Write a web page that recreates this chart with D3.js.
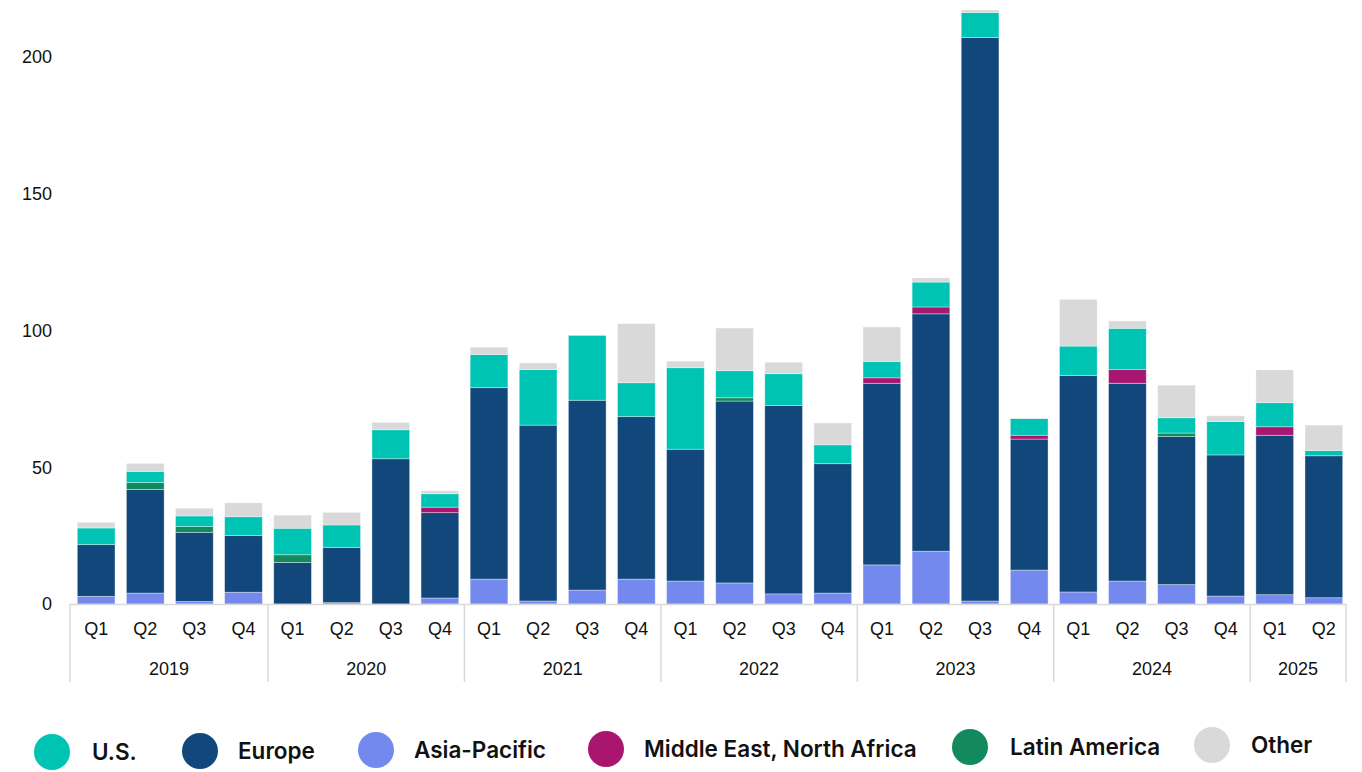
<!DOCTYPE html>
<html>
<head>
<meta charset="utf-8">
<script src="https://cdn.jsdelivr.net/npm/d3@7"></script>
<style>
  html, body { margin: 0; padding: 0; background: #fff; }
  svg { display: block; font-family: "Liberation Sans", Arial, sans-serif; }
</style>
</head>
<body>
<svg id="chart" width="1362" height="772"></svg>
<script>
// Quarterly values by region
const years = ["2019", "2020", "2021", "2022", "2023", "2024", "2025"];
const quartersPerYear = [4, 4, 4, 4, 4, 4, 2];
const quarterNames = ["Q1", "Q2", "Q3", "Q4"];

const asiaPacific   = [2.8, 4.0, 0.9, 4.3,  0.0, 0.5, 0.0, 2.2,  9.1, 1.1, 5.1, 9.1,  8.4, 7.7, 3.7, 4.0,  14.3, 19.3, 1.1, 12.4,  4.4, 8.4, 7.1, 2.9,  3.4, 2.3];
const europe        = [18.9, 37.9, 25.3, 20.7,  15.2, 20.2, 53.1, 31.2,  70.0, 64.3, 69.4, 59.4,  48.2, 66.5, 68.9, 47.3,  66.4, 86.8, 206.0, 47.9,  79.1, 72.3, 54.1, 51.6,  58.3, 51.9];
const latinAmerica  = [0, 2.5, 2.1, 0,  2.8, 0, 0, 0,  0, 0, 0, 0,  0, 1.2, 0, 0,  0, 0, 0, 0,  0, 0, 1.3, 0,  0, 0];
const middleEast    = [0, 0, 0, 0,  0, 0, 0, 2.0,  0, 0, 0, 0,  0, 0, 0, 0,  2.0, 2.5, 0, 1.4,  0, 5.0, 0, 0,  3.1, 0];
const us            = [6.1, 4.1, 3.9, 6.9,  9.7, 8.2, 10.6, 4.9,  12.1, 20.3, 23.7, 12.4,  29.8, 9.9, 11.6, 6.9,  6.0, 9.1, 9.2, 6.1,  10.8, 15.1, 5.6, 12.2,  8.8, 1.9];
const other         = [2.1, 2.9, 2.8, 5.1,  4.8, 4.6, 2.7, 1.1,  2.7, 2.4, 0, 21.6,  2.4, 15.6, 4.2, 8.0,  12.6, 1.5, 0.9, 0.2,  17.1, 2.7, 11.9, 2.1,  12.0, 9.3];

const yTicks = [0, 50, 100, 150, 200];

const series = [
  { key: "asia",   name: "Asia-Pacific",              values: asiaPacific,  color: "#7389ee" },
  { key: "europe", name: "Europe",                    values: europe,       color: "#11477a" },
  { key: "latam",  name: "Latin America",             values: latinAmerica, color: "#138a5e" },
  { key: "mena",   name: "Middle East, North Africa", values: middleEast,   color: "#a8166f" },
  { key: "us",     name: "U.S.",                      values: us,           color: "#00c4b3" },
  { key: "other",  name: "Other",                     values: other,        color: "#d9d9d9" }
];
const legendOrder = ["us", "europe", "asia", "mena", "latam", "other"];

// Build one row per quarter
const rows = [];
years.forEach((yr, yi) => {
  for (let q = 0; q < quartersPerYear[yi]; q++) {
    const i = rows.length;
    const row = { id: yr + "-" + quarterNames[q], year: yr, quarter: quarterNames[q] };
    series.forEach(s => { row[s.key] = s.values[i]; });
    rows.push(row);
  }
});

const svg = d3.select("#chart");
const axisLeft = 70, axisRight = 1346;
const y0 = 604;

const x = d3.scaleBand()
  .domain(rows.map(d => d.id))
  .range([77.3, 1342.7])
  .paddingInner(0.232)
  .paddingOuter(0);

const y = d3.scaleLinear().domain([0, 200]).range([y0, 57]);

const stack = d3.stack().keys(series.map(s => s.key));
const stacked = stack(rows);
const colorOf = Object.fromEntries(series.map(s => [s.key, s.color]));

// Bars
svg.append("g")
  .selectAll("g")
  .data(stacked)
  .join("g")
  .attr("fill", d => colorOf[d.key])
  .selectAll("rect")
  .data(d => d.filter(p => p[1] - p[0] > 0))
  .join("rect")
  .attr("x", d => x(d.data.id))
  .attr("width", x.bandwidth())
  .attr("y", d => y(d[1]))
  .attr("height", d => y(d[0]) - y(d[1]))
  .attr("stroke", "#ffffff")
  .attr("stroke-opacity", 0.45)
  .attr("stroke-width", 0.8);

// Y axis labels (no axis line)
const yAxis = d3.axisLeft(y).tickValues(yTicks).tickSize(0).tickPadding(0);
const yg = svg.append("g").attr("transform", "translate(52,0)").call(yAxis);
yg.select(".domain").remove();
yg.selectAll("text").attr("font-size", 18).attr("fill", "#111").attr("font-family", "'Liberation Sans', Arial, sans-serif");

// Category axis: baseline, quarter labels, year groups
const axisColor = "#d9d9d9";
svg.append("line")
  .attr("x1", axisLeft).attr("x2", axisRight)
  .attr("y1", y0 + 0.5).attr("y2", y0 + 0.5)
  .attr("stroke", axisColor).attr("stroke-width", 1.5);

const xAxis = d3.axisBottom(x).tickSize(0).tickPadding(0).tickFormat(id => id.split("-")[1]);
const xg = svg.append("g").attr("transform", `translate(0,${y0 + 18})`).call(xAxis);
xg.select(".domain").remove();
xg.selectAll("text")
  .attr("font-size", 18).attr("fill", "#111")
  .attr("font-family", "'Liberation Sans', Arial, sans-serif");

// Year group separators and labels
const gap = x.step() - x.bandwidth();
const bounds = [];
let idx = 0;
years.forEach((yr, yi) => {
  const start = rows[idx].id;
  const end = rows[idx + quartersPerYear[yi] - 1].id;
  const left = yi === 0 ? axisLeft : x(start) - gap / 2;
  const right = yi === years.length - 1 ? axisRight : x(end) + x.bandwidth() + gap / 2;
  bounds.push({ yr, left, right });
  idx += quartersPerYear[yi];
});
const sepX = [bounds[0].left, ...bounds.map(b => b.right)];
svg.append("g").selectAll("line")
  .data(sepX)
  .join("line")
  .attr("x1", d => d).attr("x2", d => d)
  .attr("y1", y0).attr("y2", 682)
  .attr("stroke", axisColor).attr("stroke-width", 1.5);

svg.append("g").selectAll("text")
  .data(bounds)
  .join("text")
  .attr("x", d => (d.left + d.right) / 2)
  .attr("y", 675)
  .attr("text-anchor", "middle")
  .attr("font-size", 18)
  .attr("fill", "#111")
  .text(d => d.yr);

// Legend
const legendPos = {
  us:     { cx: 52,   tx: 92,   cy: 752 },
  europe: { cx: 200,  tx: 238,  cy: 751 },
  asia:   { cx: 376,  tx: 414,  cy: 750 },
  mena:   { cx: 606,  tx: 644,  cy: 749 },
  latam:  { cx: 970,  tx: 1010, cy: 747 },
  other:  { cx: 1212, tx: 1251, cy: 745 }
};
const legend = svg.append("g").selectAll("g")
  .data(legendOrder.map(k => series.find(s => s.key === k)))
  .join("g");
legend.append("circle")
  .attr("cx", d => legendPos[d.key].cx)
  .attr("cy", d => legendPos[d.key].cy)
  .attr("r", 18)
  .attr("fill", d => d.color);
legend.append("text")
  .attr("x", d => legendPos[d.key].tx)
  .attr("y", d => legendPos[d.key].cy + 8)
  .attr("font-size", 22.5)
  .attr("font-weight", 600)
  .attr("fill", "#111")
  .attr("font-family", "Inter, 'Liberation Sans', Arial, sans-serif")
  .text(d => d.name);
</script>
</body>
</html>
